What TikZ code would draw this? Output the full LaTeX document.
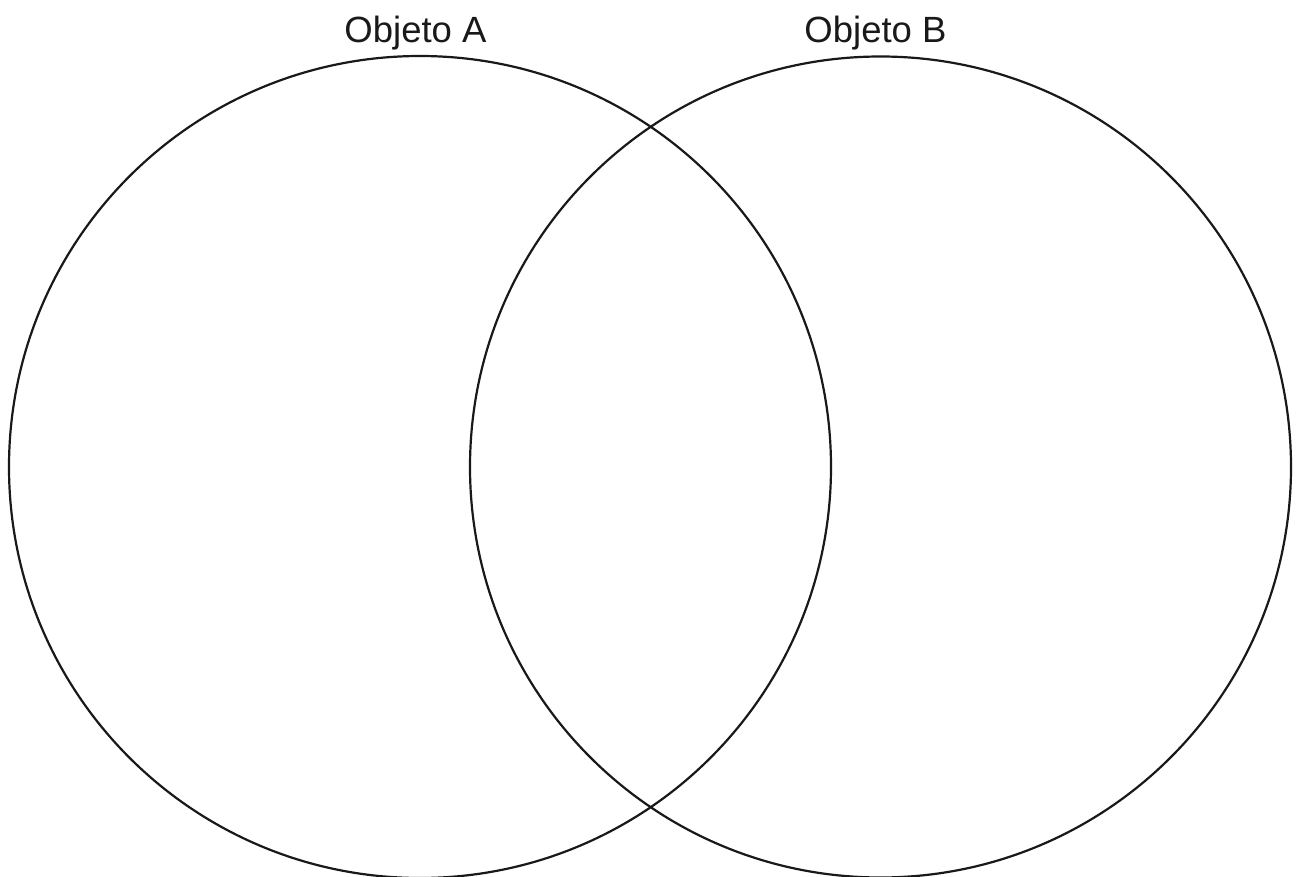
\documentclass[tikz,border=0pt]{standalone}
\usepackage{fontspec}
\setmainfont{Liberation Sans}
\begin{document}
\begin{tikzpicture}[x=1pt,y=-1pt,
  venn/.style={draw=black!90,line width=2.2pt},
  lbl/.style={font=\fontsize{36.5}{40}\selectfont, anchor=base, inner sep=0pt, text=black!90}]
\useasboundingbox (0,0) rectangle (1296,877);
\node[venn,circle,minimum size=822pt,inner sep=0pt] (A) at (420,467) {};
\node[venn,circle,minimum size=821pt,inner sep=0pt] (B) at (880.5,467) {};
\node[lbl] (la) at (415.5,43) {Objeto A};
\node[lbl] (lb) at (875.5,43) {Objeto B};
\end{tikzpicture}
\end{document}
